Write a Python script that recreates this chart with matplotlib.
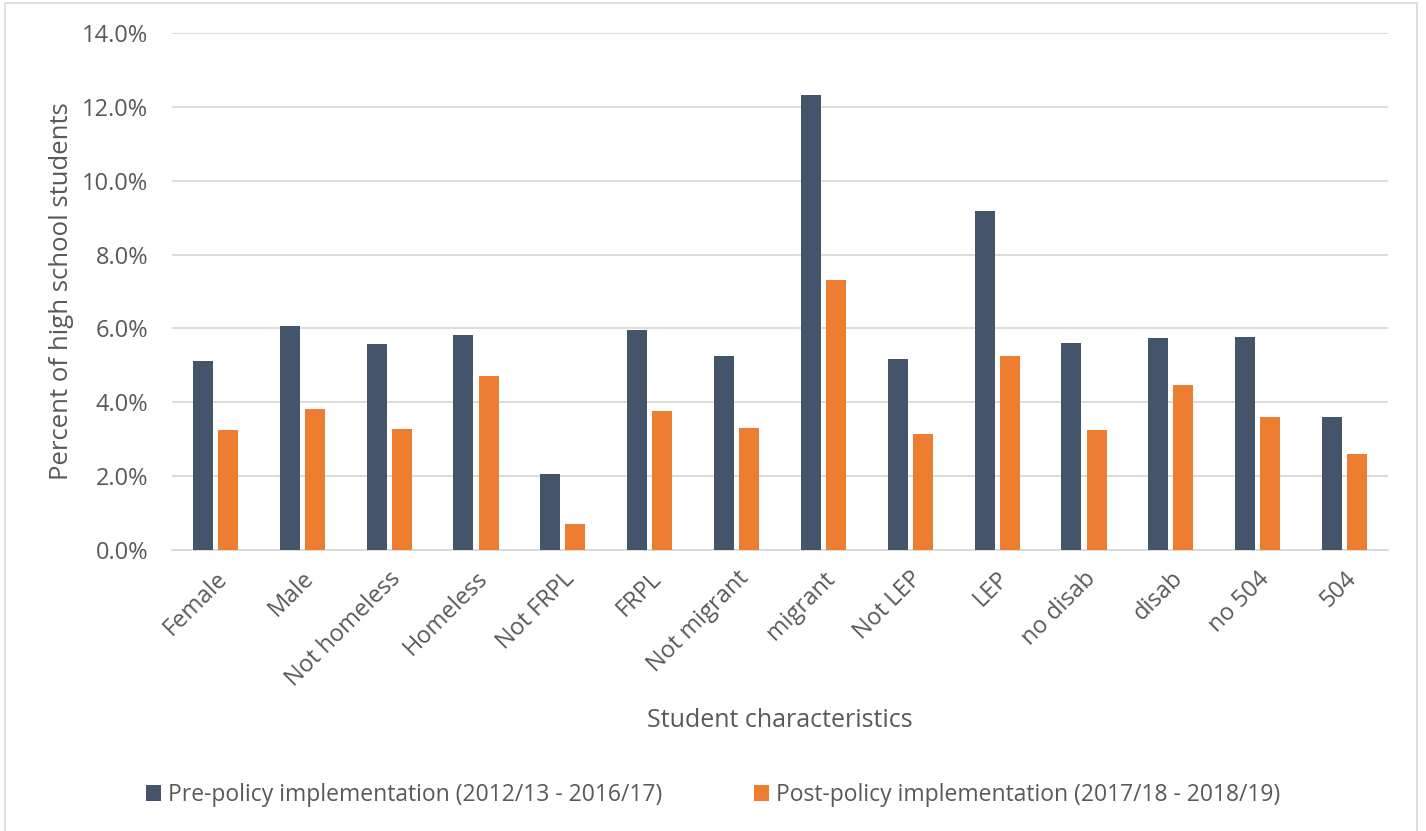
import matplotlib
matplotlib.use("Agg")
import matplotlib.pyplot as plt
import numpy as np
from matplotlib.ticker import PercentFormatter
from matplotlib.patches import Rectangle

categories = ["Female", "Male", "Not homeless", "Homeless", "Not FRPL", "FRPL",
              "Not migrant", "migrant", "Not LEP", "LEP", "no disab", "disab",
              "no 504", "504"]
pre_policy = [5.12, 6.07, 5.58, 5.82, 2.06, 5.96, 5.25, 12.32, 5.17, 9.18,
              5.61, 5.74, 5.77, 3.60]
post_policy = [3.25, 3.82, 3.28, 4.71, 0.70, 3.76, 3.30, 7.31, 3.14, 5.25,
               3.25, 4.47, 3.60, 2.60]
series_names = ["Pre-policy implementation (2012/13 - 2016/17)",
                "Post-policy implementation (2017/18 - 2018/19)"]

plt.rcParams['font.family'] = ['Open Sans', 'DejaVu Sans']
text_color = '#595959'
pre_color = '#44546A'
post_color = '#ED7D31'

fig = plt.figure(figsize=(14.26, 8.31), dpi=100)
ax = fig.add_axes([172/1426, 1 - 550/831, (1388-172)/1426, (550-33)/831])

# light border around the chart area like the office export
fig.patches.append(Rectangle((5/1426, -0.01), (1417-5)/1426, 1 - 3/831 + 0.01,
                             transform=fig.transFigure, fill=False,
                             edgecolor='#D9D9D9', linewidth=1.2))

x = np.arange(len(categories))
w = 0.23
off = 0.145
ax.bar(x - off, pre_policy, w, color=pre_color, label=series_names[0], zorder=3)
ax.bar(x + off, post_policy, w, color=post_color, label=series_names[1], zorder=3)

ax.set_xlim(-0.5, len(categories) - 0.5)
ax.set_ylim(0, 14)
ax.set_yticks(np.arange(0, 14.1, 2))
ax.yaxis.set_major_formatter(PercentFormatter(decimals=1))
ax.grid(axis='y', color='#D9D9D9', linewidth=1.3, zorder=0)

for s in ['top', 'right', 'left']:
    ax.spines[s].set_visible(False)
ax.spines['bottom'].set_color('#D9D9D9')
ax.spines['bottom'].set_linewidth(1.3)

ax.tick_params(axis='both', length=0, labelsize=17, colors=text_color)
ax.tick_params(axis='y', pad=17)
ax.set_xticks(x)
ax.set_xticklabels(categories, rotation=45, ha='right', rotation_mode='anchor')
ax.tick_params(axis='x', pad=12)

ax.set_ylabel('Percent of high school students', fontsize=18.5, color=text_color)
ax.yaxis.set_label_coords(-0.081, 0.5)
ax.set_xlabel('Student characteristics', fontsize=18, color=text_color)
ax.xaxis.set_label_coords(0.5, -0.305)

leg = fig.legend(loc='center', bbox_to_anchor=(0.5, 1 - 795/831), ncol=2,
                 frameon=False, fontsize=16.5, handlelength=0.65, handleheight=0.65,
                 handletextpad=0.3, columnspacing=4.0)
for t in leg.get_texts():
    t.set_color(text_color)

fig.savefig('out.png', dpi=100)
